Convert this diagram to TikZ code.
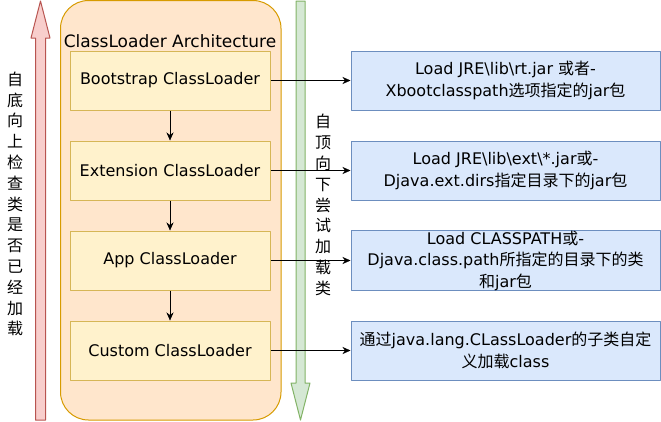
\documentclass[tikz,border=0pt]{standalone}
\usepackage{fontspec}
\setmainfont{DejaVu Sans}
\newfontfamily\cjkfont{Noto Sans CJK SC}
\newcommand{\zh}[1]{{\cjkfont #1}}
\usetikzlibrary{arrows.meta,positioning}
\definecolor{loaderfill}{HTML}{FFF2CC}
\definecolor{loaderdraw}{HTML}{D6B656}
\definecolor{archfill}{HTML}{FFE6CC}
\definecolor{archdraw}{HTML}{D79B00}
\definecolor{pathfill}{HTML}{DAE8FC}
\definecolor{pathdraw}{HTML}{6C8EBF}
\definecolor{upfill}{HTML}{F8CECC}
\definecolor{updraw}{HTML}{B85450}
\definecolor{downfill}{HTML}{D5E8D4}
\definecolor{downdraw}{HTML}{82B366}
\tikzset{
  every picture/.style={line join=round},
  loader/.style={draw=loaderdraw, fill=loaderfill, line width=1pt,
    minimum width=200pt, minimum height=59pt, inner sep=0pt,
    font=\fontsize{16}{20}\selectfont},
  pathbox/.style={draw=pathdraw, fill=pathfill, line width=1pt,
    minimum width=309pt, minimum height=59pt, inner sep=0pt, align=center,
    font=\fontsize{16}{21.5}\selectfont},
  sidenote/.style={align=center, inner sep=0pt,
    font=\cjkfont\fontsize{16}{20.8}\selectfont},
}

\begin{document}
\begin{tikzpicture}[x=1pt, y=-1pt, >={Stealth[length=8pt,width=7pt]}]
    \useasboundingbox (0,0) rectangle (661,421);
    % Upward arrow
    \draw[updraw, fill=upfill, line width=1pt] (35.5,420) -- (35.5,38) -- (31,38)
        -- (40.5,1) -- (50,38) -- (45.5,38) -- (45.5,420) -- cycle;
    \node[sidenote] (upnote) at (15,204) {自\\底\\向\\上\\检\\查\\类\\是\\否\\已\\经\\加\\载};
    % Container
    \draw[archdraw, fill=archfill, line width=1pt, rounded corners=28pt]
        (60.5,0.5) rectangle (281,420);
    \node[font=\fontsize{17}{20}\selectfont] (title) at (170,41) {ClassLoader Architecture};
    % Downward arrow
    \draw[downdraw, fill=downfill, line width=1pt] (296,1) -- (305,1) -- (305,383)
        -- (310,383) -- (300.5,420) -- (291,383) -- (296,383) -- cycle;
    \node[sidenote] (downnote) at (323,205) {自\\顶\\向\\下\\尝\\试\\加\\载\\类};
    % Loaders
    \node[loader] (boot) at (170,80.5) {Bootstrap ClassLoader};
    \node[loader] (ext) at (170,170.5) {Extension ClassLoader};
    \node[loader] (app) at (170,260.5) {App ClassLoader};
    \node[loader] (custom) at (170,350.5) {Custom ClassLoader};
    % Load paths
    \node[pathbox] (rtjar) at (505.5,80.5)
        {Load JRE\textbackslash lib\textbackslash rt.jar \zh{或者}-\\Xbootclasspath\zh{选项指定的}jar\zh{包}};
    \node[pathbox] (extjar) at (505.5,170.5)
        {Load JRE\textbackslash lib\textbackslash ext\textbackslash *.jar\zh{或}-\\Djava.ext.dirs\zh{指定目录下的}jar\zh{包}};
    \node[pathbox] (classpath) at (505.5,260.5)
        {Load CLASSPATH\zh{或}-\\Djava.class.path\zh{所指定的目录下的类}\\\zh{和}jar\zh{包}};
    \node[pathbox] (userdef) at (505.5,350.5)
        {\zh{通过}java.lang.CLassLoader\zh{的子类自定}\\\zh{义加载}class};
    % Connectors
    \draw[->] (boot) -- (ext);
    \draw[->] (ext) -- (app);
    \draw[->] (app) -- (custom);
    \draw[->] (boot) -- (rtjar);
    \draw[->] (ext) -- (extjar);
    \draw[->] (app) -- (classpath);
    \draw[->] (custom) -- (userdef);
\end{tikzpicture}
\end{document}
